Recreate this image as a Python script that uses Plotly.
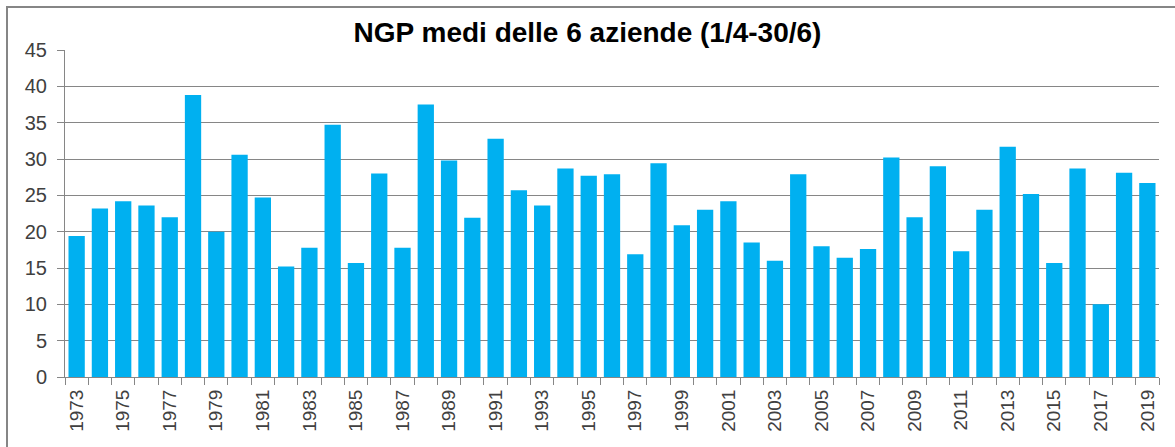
import plotly.graph_objects as go

years = list(range(1973, 2020))
values = [19.4, 23.2, 24.2, 23.6, 22.0, 38.8, 20.0, 30.6, 24.7, 15.2,
          17.8, 34.7, 15.7, 28.0, 17.8, 37.5, 29.8, 21.9, 32.8, 25.7,
          23.6, 28.7, 27.7, 27.9, 16.9, 29.4, 20.9, 23.0, 24.2, 18.5,
          16.0, 27.9, 18.0, 16.4, 17.6, 30.2, 22.0, 29.0, 17.3, 23.0,
          31.7, 25.2, 15.7, 28.7, 10.0, 28.1, 26.7]
label_years = [y for y in years if (y - 1973) % 2 == 0]
title_text = "NGP medi delle 6 aziende (1/4-30/6)"

W, H = 1175, 447
L, R, T, B = 65, 16, 50, 70
pw, ph = W - L - R, H - T - B

fig = go.Figure(go.Bar(x=years, y=values, marker=dict(color="#00B0F0", line=dict(width=0)),
                       width=0.70))

fig.update_layout(
    width=W, height=H,
    margin=dict(l=L, r=R, t=T, b=B, autoexpand=False),
    paper_bgcolor="white", plot_bgcolor="white",
    showlegend=False,
    font=dict(family="Liberation Sans, Arial, sans-serif", color="#404040"),
    title=dict(text="<b>" + title_text + "</b>", x=0.5, xanchor="center",
               y=1 - 32 / H, yanchor="middle",
               font=dict(size=28, color="#000000", family="Liberation Sans, Arial, sans-serif")),
    xaxis=dict(range=[1972.5, 2019.5], tickmode="array", tickvals=label_years,
               ticktext=[str(y) for y in label_years], tickangle=-90,
               ticks="", showgrid=False, showline=True, linecolor="#868686", linewidth=1,
               tickfont=dict(size=19, color="#404040"), automargin=False,
               minor=dict(tickmode="linear", tick0=1972.5, dtick=1, ticks="outside",
                          ticklen=7, tickcolor="#868686", showgrid=False),
               ticklabelstandoff=4),
    yaxis=dict(range=[0, 45], dtick=5, tick0=0, showgrid=True, gridcolor="#868686",
               gridwidth=1, showline=True, linecolor="#868686", linewidth=1,
               ticks="outside", ticklen=7, tickcolor="#868686", automargin=False,
               tickfont=dict(size=20, color="#404040"), zeroline=False,
               ticklabelstandoff=6),
    bargap=0.3,
)

# outer chart border
fig.add_shape(type="rect", xref="paper", yref="paper",
              x0=(7 - L) / pw, x1=(W + 20 - L) / pw,
              y0=-(B + 20) / ph, y1=(H - 7 - B) / ph,
              line=dict(color="#868686", width=2), fillcolor="rgba(0,0,0,0)", layer="below")

fig.write_html("out.html", config={"displayModeBar": False},
               post_script="document.body.style.margin='0';document.body.style.overflow='hidden';")
